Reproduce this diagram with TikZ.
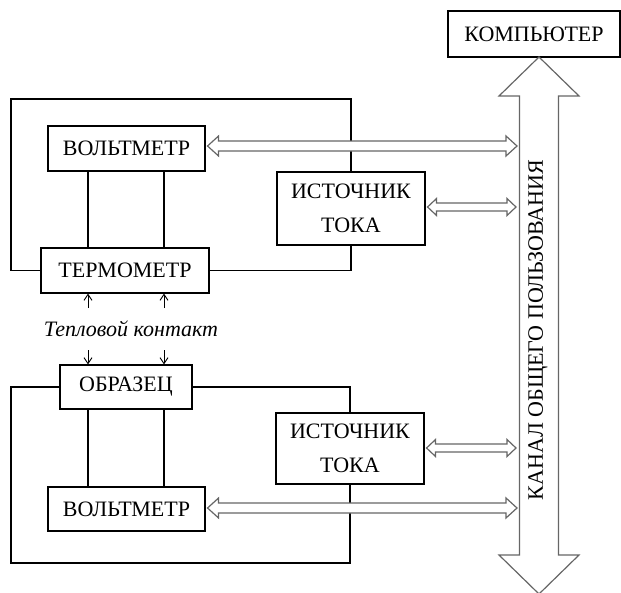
\documentclass[tikz,border=0pt]{standalone}
\usepackage{fontspec}
\setmainfont{Liberation Serif}
\usetikzlibrary{calc,arrows.meta}
\newcommand\dblarr[5]{\draw[hollow] (#1) -- ($(#1)+(#3,-#4)$) -- ($(#1)+(#3,-#5)$) -- ($(#2)+(-#3,-#5)$) -- ($(#2)+(-#3,-#4)$) -- (#2) -- ($(#2)+(-#3,#4)$) -- ($(#2)+(-#3,#5)$) -- ($(#1)+(#3,#5)$) -- ($(#1)+(#3,#4)$) -- cycle;}
\begin{document}
\begin{tikzpicture}[x=1pt,y=-1pt,
  box/.style={draw,line width=1.1pt,minimum height=45pt,inner sep=0pt,font=\fontsize{22}{34}\selectfont,align=center},
  wire/.style={line width=1.1pt},
  hollow/.style={draw=black!60,line width=1.2pt,fill=white,line join=miter},
  heat/.style={line width=0.9pt,-{Straight Barb[length=6pt,width=8pt]}}]
\useasboundingbox (0,0) rectangle (621,592);
% blocks
\node[box,minimum width=157pt] (volt1) at (126.5,148.5) {ВОЛЬТМЕТР};
\node[box,minimum width=168pt] (term) at (125,270.5) {ТЕРМОМЕТР};
\node[box,minimum width=148pt,minimum height=73pt] (src1) at (351,208.5) {ИСТОЧНИК\\ТОКА};
\node[box,minimum width=132pt,minimum height=44pt] (obr) at (126,387) {ОБРАЗЕЦ};
\node[box,minimum width=148pt,minimum height=71pt] (src2) at (350,448.5) {ИСТОЧНИК\\ТОКА};
\node[box,minimum width=157pt,minimum height=44pt] (volt2) at (126.5,509) {ВОЛЬТМЕТР};
\node[box,minimum width=172pt,minimum height=46pt] (comp) at (534,34) {КОМПЬЮТЕР};
\node[font=\itshape\fontsize{22}{24}\selectfont] (heattext) at (131,329) {Тепловой контакт};
% helper coordinates
\coordinate (L1) at (88,0);
\coordinate (L2) at (164,0);
\coordinate (busL) at (517,0);
\coordinate (busL2) at (516,0);
\coordinate (bustop) at (539,57);
\coordinate (busbot) at (539,594);
% wires
\draw[wire] (volt1.south -| L1) -- (term.north -| L1);
\draw[wire] (volt1.south -| L2) -- (term.north -| L2);
\draw[wire] (obr.south -| L1) -- (volt2.north -| L1);
\draw[wire] (obr.south -| L2) -- (volt2.north -| L2);
\draw[wire] (term.west) -| (11,99) -| (src1.north);
\draw[wire] (src1.south) |- (term.east);
\draw[wire] (obr.west) -| (11,563) -| (src2.south);
\draw[wire] (obr.east) -| (src2.north);
% thermal contact arrows
\coordinate (h1) at (88,308);
\coordinate (h2) at (164,308);
\coordinate (h3) at (88,350);
\coordinate (h4) at (164,350);
\draw[heat] (h1) -- (h1 |- term.south);
\draw[heat] (h2) -- (h2 |- term.south);
\draw[heat] (h3) -- (h3 |- obr.north);
\draw[heat] (h4) -- (h4 |- obr.north);
% bus
\draw[hollow] (bustop) -- (579,96) -- (558.5,96) -- (558.5,555) -- (579,555) -- (busbot) -- (499,555) -- (519.5,555) -- (519.5,96) -- (499,96) -- cycle;
\node[rotate=90,font=\fontsize{22}{24}\selectfont] (bustext) at (538,330) {КАНАЛ ОБЩЕГО ПОЛЬЗОВАНИЯ};
% double arrows
\coordinate (a1) at ($(volt1.east)+(2,-2.5)$);
\coordinate (b1) at (a1 -| busL);
\dblarr{a1}{b1}{11}{10}{5}
\coordinate (a2) at ($(src1.east)+(2,-1.5)$);
\coordinate (b2) at (a2 -| busL2);
\dblarr{a2}{b2}{9}{8.5}{4}
\coordinate (a3) at ($(src2.east)+(2,-0.5)$);
\coordinate (b3) at (a3 -| busL2);
\dblarr{a3}{b3}{9}{8.5}{4}
\coordinate (a4) at ($(volt2.east)+(2,-1)$);
\coordinate (b4) at (a4 -| busL);
\dblarr{a4}{b4}{11}{10}{5}
\end{tikzpicture}
\end{document}
